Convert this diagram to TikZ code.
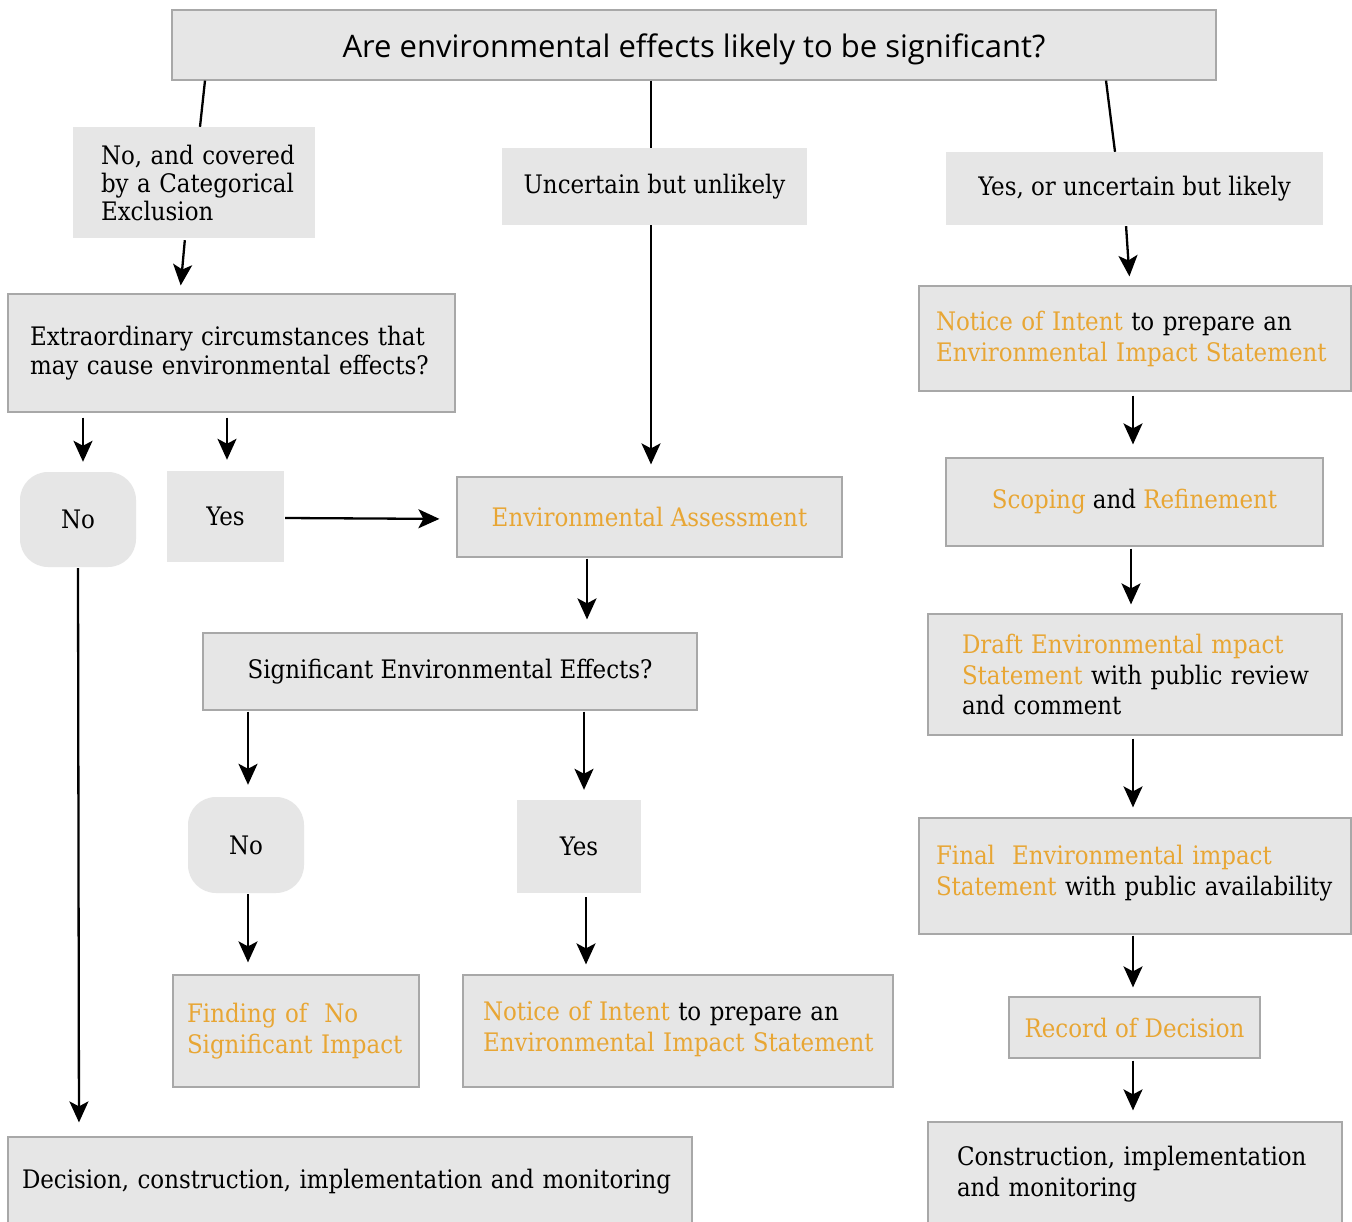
\documentclass[tikz,border=0pt]{standalone}
\usepackage{fontspec}
\setmainfont{DejaVu Serif Condensed}
\newfontfamily\titlefont{Open Sans}
\usetikzlibrary{arrows.meta}
\definecolor{boxfill}{HTML}{E6E6E6}
\definecolor{boxline}{HTML}{A8A8A8}
\definecolor{hl}{HTML}{E8A634}
\newcommand\hi[1]{\textcolor{hl}{#1}}
\newcommand\mb[1]{\mbox{#1}}
\begin{document}
\begin{tikzpicture}[x=1pt,y=-1pt,
 base/.style={fill=boxfill, inner sep=0pt, font=\fontsize{25.5}{30}\selectfont, anchor=center},
 bbox/.style={base, draw=boxline, line width=1.2pt},
 plain/.style={base},
 rnd/.style={base, rounded corners=28pt},
 arr/.style={-{Stealth[length=21pt,width=19pt,inset=5pt]}, line width=2.3pt},
 ln/.style={line width=2.3pt},
]
\useasboundingbox[fill=white] (0,0) rectangle (1352,1222);

% top
\node[bbox, minimum width=1044pt, minimum height=70pt, font=\titlefont\fontsize{31}{36}\selectfont] (title) at (694,45) {\raisebox{-4pt}[\height][\depth]{Are environmental effects likely to be significant?}};

% second row
\node[plain, minimum width=242pt, minimum height=111pt, text width=186pt, align=left, font=\fontsize{25.5}{28}\selectfont] (nocov) at (194,182.5) {\mb{No, and covered}\\\mb{by a Categorical}\\\mb{Exclusion}};
\node[plain, minimum width=305pt, minimum height=77pt] (unc) at (654.5,186.5) {Uncertain but unlikely};
\node[plain, minimum width=377pt, minimum height=73pt] (yesl) at (1134.5,188.5) {Yes, or uncertain but likely};

% left column
\node[bbox, minimum width=447pt, minimum height=118pt, text width=403pt, align=left, font=\fontsize{25.5}{29}\selectfont] (extra) at (231.5,353) {\mb{Extraordinary circumstances that}\\\mb{may cause environmental effects?}};
\node[rnd, minimum width=116pt, minimum height=95pt] (no1) at (78,519.5) {No};
\node[plain, minimum width=117pt, minimum height=91pt] (yes1) at (225.5,516.5) {Yes};
\node[bbox, minimum width=385pt, minimum height=80pt] (ea) at (649.5,517) {\hi{Environmental Assessment}};
\node[bbox, minimum width=494pt, minimum height=77pt] (sig) at (450,671.5) {Significant Environmental Effects?};
\node[rnd, minimum width=116pt, minimum height=96pt] (no2) at (246,845) {No};
\node[plain, minimum width=124pt, minimum height=93pt] (yes2) at (579,846.5) {Yes};
\node[bbox, minimum width=246pt, minimum height=112pt, text width=218pt, align=left, font=\fontsize{25.5}{31}\selectfont] (fonsi) at (296,1031) {\mb{\hi{Finding of\ \ No}}\\\mb{\hi{Significant Impact}}};
\node[bbox, minimum width=430pt, minimum height=112pt, text width=390pt, align=left, font=\fontsize{25.5}{31}\selectfont] (noi2) at (678,1031) {\raisebox{2pt}[\height][\depth]{\mb{\hi{Notice of Intent} to prepare an}}\\\raisebox{2pt}[\height][\depth]{\mb{\hi{Environmental Impact Statement}}}};
\node[bbox, minimum width=684pt, minimum height=90pt, text width=656pt, align=left] (dec) at (350,1182) {\mb{Decision, construction, implementation and monitoring}};

% right column
\node[bbox, minimum width=432pt, minimum height=105pt, text width=398pt, align=left, font=\fontsize{25.5}{31}\selectfont] (noi1) at (1135,338.5) {\mb{\hi{Notice of Intent} to prepare an}\\\mb{\hi{Environmental Impact Statement}}};
\node[bbox, minimum width=377pt, minimum height=88pt] (scop) at (1134.5,502) {\hi{Scoping} and \hi{Refinement}};
\node[bbox, minimum width=414pt, minimum height=121pt, text width=346pt, align=left, font=\fontsize{25.5}{30.5}\selectfont] (draft) at (1135,674.5) {\mb{\hi{Draft Environmental mpact}}\\\mb{\hi{Statement} with public review}\\\mb{and comment}};
\node[bbox, minimum width=432pt, minimum height=116pt, text width=398pt, align=left, font=\fontsize{25.5}{31}\selectfont] (final) at (1135,876) {\raisebox{3pt}[\height][\depth]{\mb{\hi{Final\ \ Environmental impact}}}\\\raisebox{3pt}[\height][\depth]{\mb{\hi{Statement} with public availability}}};
\node[bbox, minimum width=251pt, minimum height=61pt] (rod) at (1134.5,1027.5) {\hi{Record of Decision}};
\node[bbox, minimum width=414pt, minimum height=104pt, text width=356pt, align=left, font=\fontsize{25.5}{31}\selectfont] (cons) at (1135,1174) {\mb{Construction, implementation}\\\mb{and monitoring}};

% connectors
\draw[ln] ([xshift=-489pt]title.south) -- ([xshift=6pt]nocov.north);
\draw[arr, shorten <=2pt, shorten >=8pt] ([xshift=-9pt]nocov.south) -- ([xshift=-51.5pt]extra.north);
\draw[ln] ([xshift=-43pt]title.south) -- ([xshift=-3.5pt]unc.north);
\draw[arr, shorten >=12pt] ([xshift=-3.5pt]unc.south) -- ([xshift=1.5pt]ea.north);
\draw[ln] ([xshift=412pt]title.south) -- ([xshift=-19.5pt]yesl.north);
\draw[arr, shorten <=1pt, shorten >=9pt] ([xshift=-8.5pt]yesl.south) -- ([xshift=-5pt]noi1.north);

\draw[arr, shorten <=5pt, shorten >=10pt] ([xshift=-148.5pt]extra.south) -- ([xshift=5pt]no1.north);
\draw[arr, shorten <=5pt, shorten >=11pt] ([xshift=-4.5pt]extra.south) -- ([xshift=1.5pt]yes1.north);
\draw[arr, shorten <=1pt, shorten >=17pt] ([yshift=-1.5pt]yes1.east) -- ([yshift=-2pt]ea.west);
\draw[arr, shorten <=1pt, shorten >=14pt] (no1.south) -- ([xshift=-271pt]dec.north);
\draw[arr, shorten <=1pt, shorten >=13pt] ([xshift=-62.5pt]ea.south) -- ([xshift=137pt]sig.north);
\draw[arr, shorten <=1pt, shorten >=12pt] ([xshift=-202pt]sig.south) -- ([xshift=2pt]no2.north);
\draw[arr, shorten <=1pt, shorten >=10pt] ([xshift=134pt]sig.south) -- ([xshift=5pt]yes2.north);
\draw[arr, shorten <=1pt, shorten >=12pt] ([xshift=2pt]no2.south) -- ([xshift=-48pt]fonsi.north);
\draw[arr, shorten <=4pt, shorten >=10pt] ([xshift=7pt]yes2.south) -- ([xshift=-92pt]noi2.north);

\draw[arr, shorten <=4pt, shorten >=13pt] ([xshift=-2pt]noi1.south) -- ([xshift=-1.5pt]scop.north);
\draw[arr, shorten <=2pt, shorten >=9pt] ([xshift=-3.5pt]scop.south) -- ([xshift=-4pt]draft.north);
\draw[arr, shorten <=3pt, shorten >=10pt] ([xshift=-2pt]draft.south) -- ([xshift=-2pt]final.north);
\draw[arr, shorten <=1pt, shorten >=9pt] ([xshift=-2pt]final.south) -- ([xshift=-1.5pt]rod.north);
\draw[arr, shorten <=2pt, shorten >=11pt] ([xshift=-1.5pt]rod.south) -- ([xshift=-2pt]cons.north);
\end{tikzpicture}
\end{document}
